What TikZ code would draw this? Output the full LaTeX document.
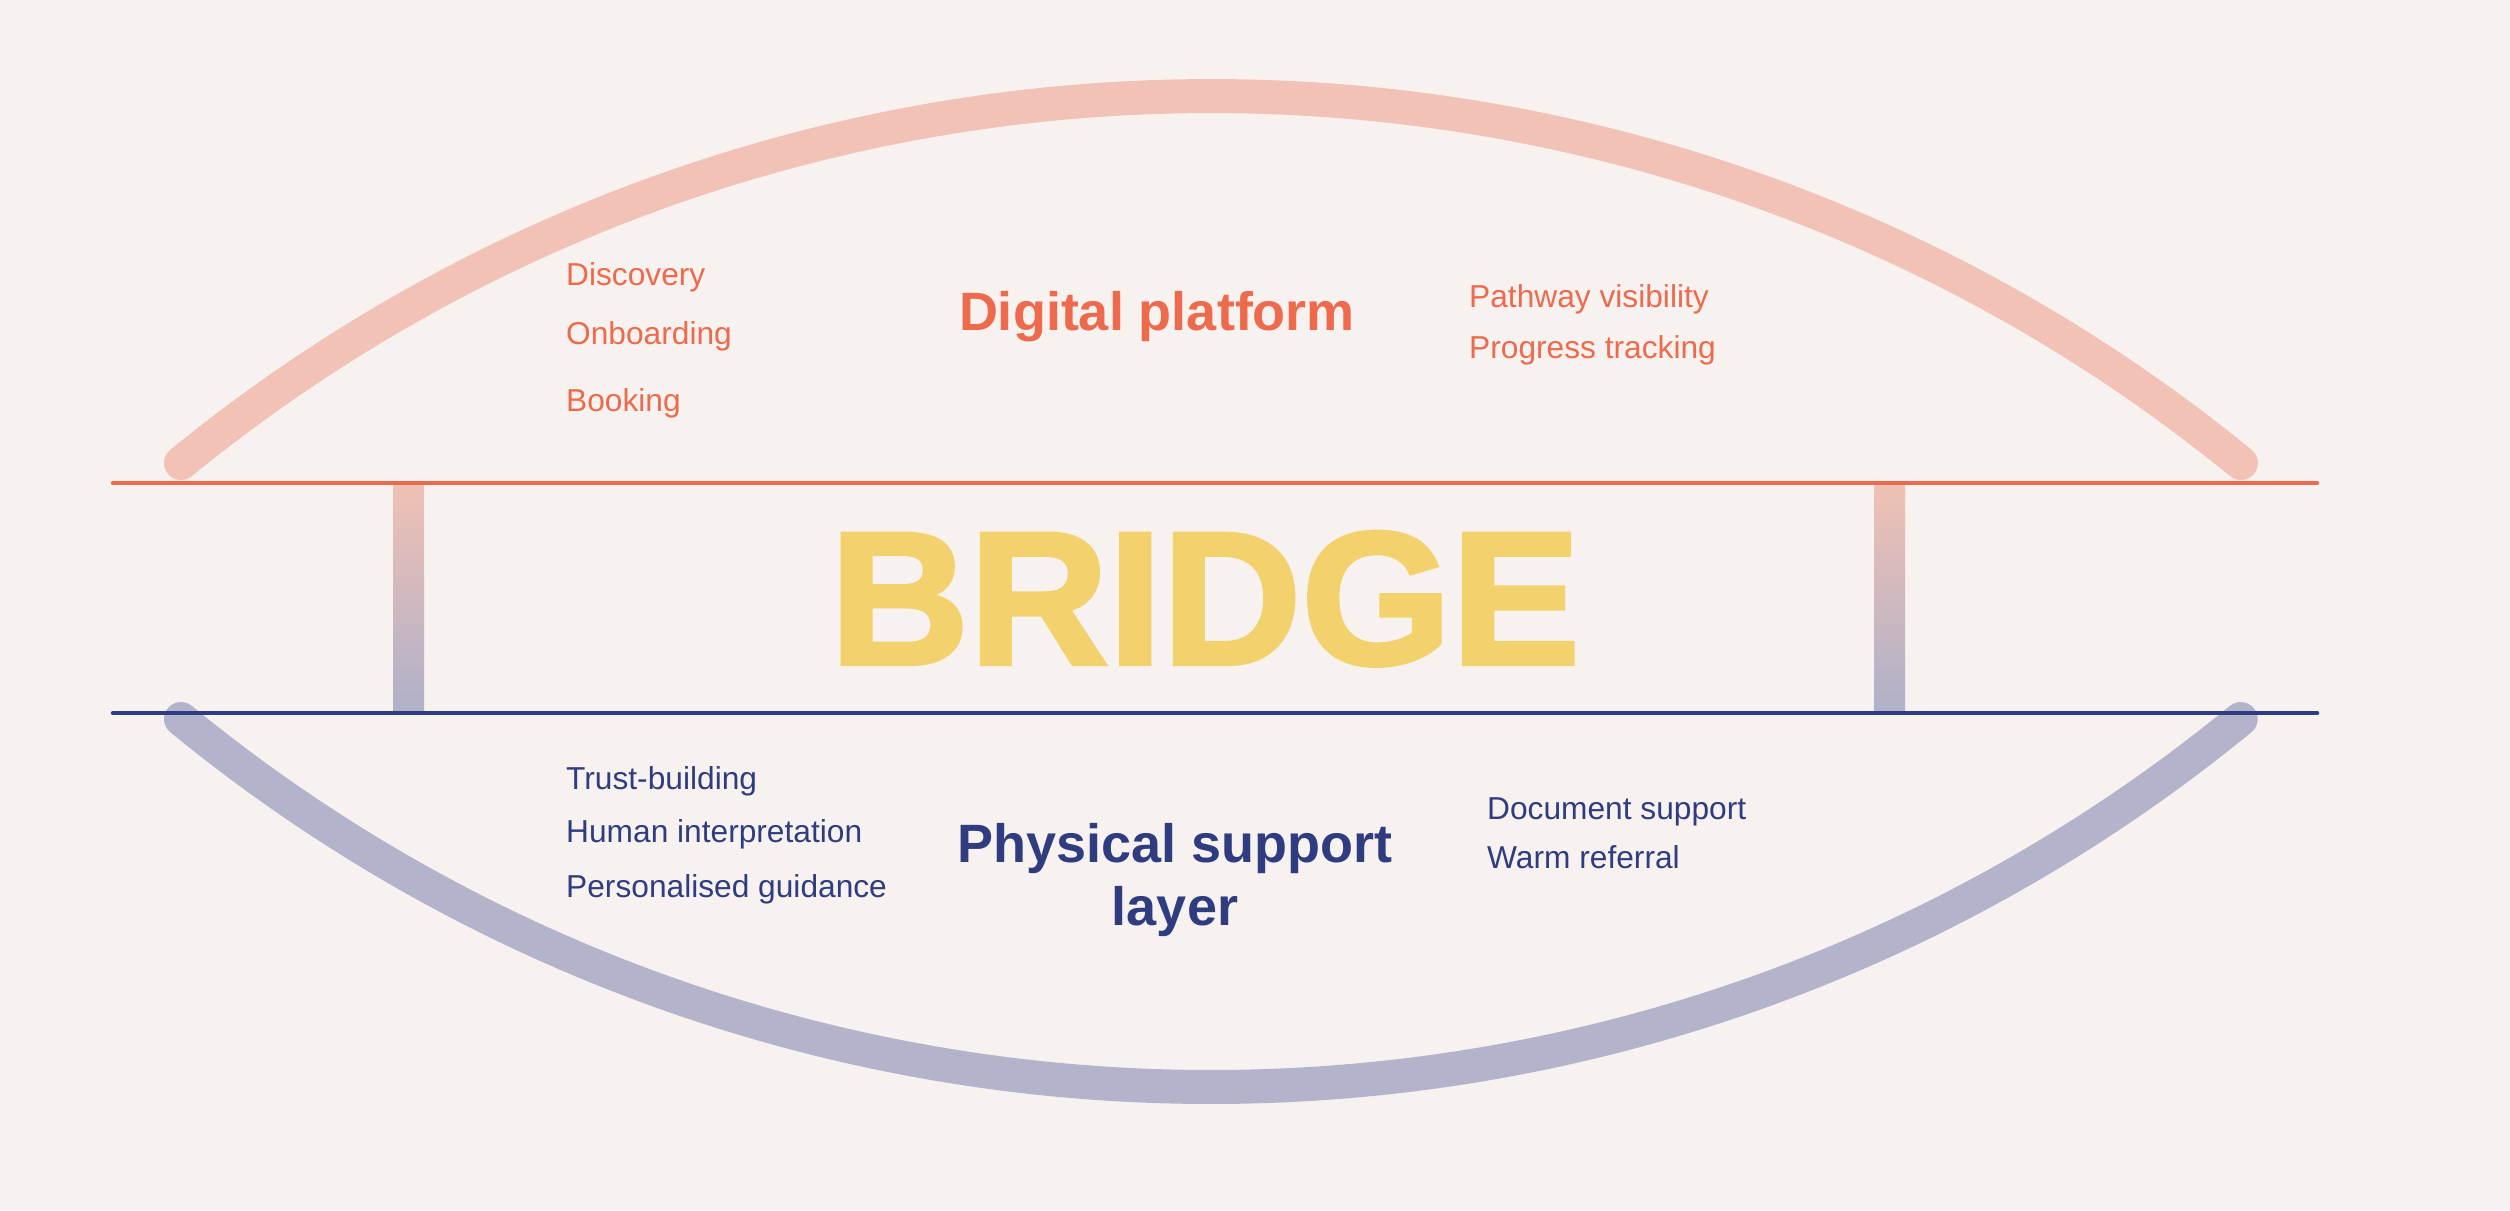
\documentclass[tikz,border=0pt]{standalone}
\usepackage{fontspec}
\usepackage{graphicx}
\setmainfont{Liberation Sans}
\newfontfamily\heavyfont{Liberation Sans}[FakeBold=2.2]
\definecolor{bgc}{HTML}{F7F2EF}
\definecolor{orng}{HTML}{EE6A4C}
\definecolor{peach}{HTML}{F2C2B6}
\definecolor{navy}{HTML}{2F3D80}
\definecolor{lav}{HTML}{B3B4CB}
\definecolor{yel}{HTML}{F3D16C}
\definecolor{pilltop}{HTML}{F0C1B4}
\definecolor{pillbot}{HTML}{AFB0C9}
\tikzset{
  arcline/.style={line width=34pt, line cap=round},
  deckline/.style={line width=4.5pt, line cap=round},
  lbl/.style={anchor=base west, inner sep=0pt, font=\fontsize{31.7}{36}\selectfont},
  head/.style={anchor=base, inner sep=0pt, font=\fontsize{54}{63}\selectfont\bfseries},
}
\begin{document}
\begin{tikzpicture}[x=1pt,y=-1pt]
\fill[bgc] (0,0) rectangle (2510,1210);
\useasboundingbox (0,0) rectangle (2510,1210);
% arcs
\coordinate (tl) at (181,463);
\coordinate (bl) at (181,719);
\draw[arcline, peach] (tl) arc[start angle=129.22, end angle=50.78, radius=1629pt];
\draw[arcline, lav] (bl) arc[start angle=230.67, end angle=309.33, radius=1625pt];
% pillars
\shade[top color=pilltop, bottom color=pillbot] (393,483) rectangle (424,713);
\shade[top color=pilltop, bottom color=pillbot] (1874,483) rectangle (1905,713);
% deck lines
\coordinate (rl) at (113,483);
\coordinate (rr) at (2317,483);
\coordinate (nl) at (113,713);
\coordinate (nr) at (2317,713);
\draw[deckline, orng] (rl) -- (rr);
\draw[deckline, navy] (nl) -- (nr);
% BRIDGE
\node[anchor=base, inner sep=0pt, text=yel] (bridge) at (1205,664)
  {\resizebox{750pt}{132pt}{\heavyfont\bfseries BRIDGE}};
% top labels
\node[lbl, text=orng] (disc) at (566,285) {Discovery};
\node[lbl, text=orng] (onb) at (566,344) {Onboarding};
\node[lbl, text=orng] (book) at (566,411) {Booking};
\node[lbl, text=orng] (path) at (1469,307) {Pathway visibility};
\node[lbl, text=orng] (prog) at (1469,358) {Progress tracking};
\node[head, text=orng] (digi) at (1157,330) {Digital platform};
% bottom labels
\node[lbl, text=navy] (trust) at (566,789) {Trust-building};
\node[lbl, text=navy] (human) at (566,842) {Human interpretation};
\node[lbl, text=navy] (pers) at (566,897) {Personalised guidance};
\node[lbl, text=navy] (doc) at (1487,819) {Document support};
\node[lbl, text=navy] (warm) at (1487,868) {Warm referral};
\node[head, text=navy] (phys) at (1175,862) {Physical support};
\node[head, text=navy] (layer) at (1175,925) {layer};
\end{tikzpicture}
\end{document}
